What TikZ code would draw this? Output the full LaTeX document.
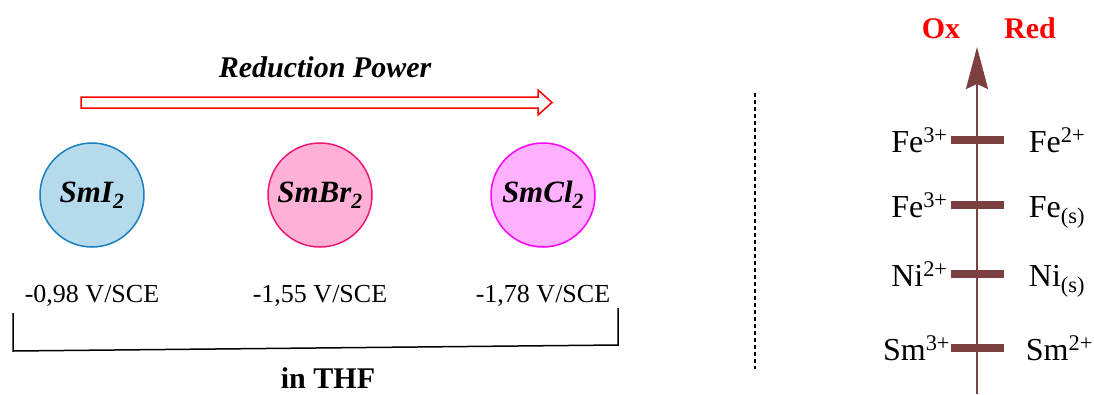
\documentclass[tikz,border=0pt]{standalone}
\usepackage{fontspec}
\setmainfont{Liberation Serif}
\usetikzlibrary{arrows.meta, positioning}
\definecolor{iodblue}{RGB}{26,128,192}
\definecolor{iodfill}{RGB}{180,218,236}
\definecolor{brompink}{RGB}{238,24,120}
\definecolor{bromfill}{RGB}{255,176,214}
\definecolor{chlormag}{RGB}{255,0,255}
\definecolor{chlorfill}{RGB}{255,176,255}
\definecolor{axisbrown}{RGB}{125,64,64}
\tikzset{
  salt/.style={circle, minimum size=104pt, inner sep=0pt, line width=1.5pt,
              font=\fontsize{31}{36}\selectfont\bfseries\itshape},
  potential/.style={inner sep=0pt, font=\fontsize{26}{30}\selectfont},
  redox/.style={inner sep=0pt, font=\fontsize{32}{38}\selectfont},
  couple/.style={rectangle, fill=axisbrown, minimum width=53pt, minimum height=8pt, inner sep=0pt},
  axislbl/.style={inner sep=0pt, anchor=base, text=red, font=\fontsize{30}{36}\selectfont\bfseries},
  hollow/.style={draw=red, line width=1.5pt, fill=white, line join=miter},
}

\begin{document}
\begin{tikzpicture}[x=1pt, y=-1pt]
    \useasboundingbox (0,0) rectangle (1094,394);

    % left part: samarium dihalides
    \node[font=\fontsize{30}{36}\selectfont\bfseries\itshape, anchor=base] (power) at (325,77) {Reduction Power};
    \draw[hollow] (81,97) -- (538,97) -- (538,90) -- (552,102.5) -- (538,115) -- (538,108) -- (81,108) -- cycle;

    \node[salt, fill=iodfill, draw=iodblue] (smi) at (92,195) {SmI\textsubscript{2}};
    \node[salt, fill=bromfill, draw=brompink] (smbr) at (320,195) {SmBr\textsubscript{2}};
    \node[salt, fill=chlorfill, draw=chlormag] (smcl) at (543,195) {SmCl\textsubscript{2}};

    \node[potential, below=37pt of smi] (esmi) {-0,98 V/SCE};
    \node[potential, below=37pt of smbr] (esmbr) {-1,55 V/SCE};
    \node[potential, below=37pt of smcl] (esmcl) {-1,78 V/SCE};

    \draw[line width=1.5pt] (13,313) -- (13,351) -- (618,345) -- (618,308);
    \node[font=\fontsize{30}{36}\selectfont\bfseries, anchor=base] (thf) at (328,388) {in THF};

    \draw[line width=1.5pt, dash pattern=on 4pt off 3pt] (755,93) -- (755,369);

    % right part: redox scale
    \node[axislbl] (ox) at (941,38) {Ox};
    \node[axislbl] (red) at (1030,38) {Red};

    \node[couple] (fe3fe2) at (977,140) {};
    \node[couple] (fe3fe) at (977,205) {};
    \node[couple] (ni2ni) at (977,274) {};
    \node[couple] (sm3sm2) at (977,348) {};

    \node[redox, left=2.5pt of fe3fe2.west, anchor=base east, yshift=-12pt] (fe3a) {Fe\textsuperscript{3+}};
    \node[redox, right=25pt of fe3fe2.east, anchor=base west, yshift=-12pt] (fe2) {Fe\textsuperscript{2+}};
    \node[redox, left=2.5pt of fe3fe.west, anchor=base east, yshift=-12pt] (fe3b) {Fe\textsuperscript{3+}};
    \node[redox, right=25pt of fe3fe.east, anchor=base west, yshift=-12pt] (fes) {Fe\textsubscript{(s)}};
    \node[redox, left=2.5pt of ni2ni.west, anchor=base east, yshift=-12pt] (ni2) {Ni\textsuperscript{2+}};
    \node[redox, right=25pt of ni2ni.east, anchor=base west, yshift=-12pt] (nis) {Ni\textsubscript{(s)}};
    \node[redox, left=0pt of sm3sm2.west, anchor=base east, yshift=-12pt] (sm3) {Sm\textsuperscript{3+}};
    \node[redox, right=22pt of sm3sm2.east, anchor=base west, yshift=-12pt] (sm2) {Sm\textsuperscript{2+}};

    \coordinate (axbot) at (977,394);
    \coordinate (axtop) at (977,47);
    \draw[axisbrown, line width=2.5pt, -{Stealth[length=42pt, width=22pt, inset=5pt]}] (axbot) -- (axtop);
\end{tikzpicture}
\end{document}
